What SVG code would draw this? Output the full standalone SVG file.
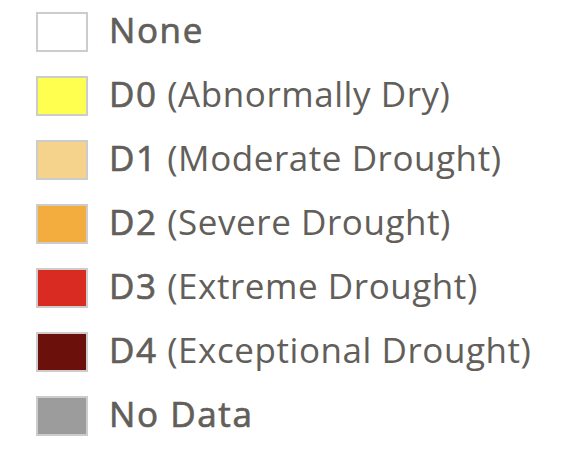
<svg xmlns="http://www.w3.org/2000/svg" width="580" height="452" viewBox="0 0 580 452">
<style>
.sw{stroke:#cccccc;stroke-width:2}
text{font-family:"Open Sans","Noto Sans",sans-serif;font-size:35px;fill:#625e5a;letter-spacing:0.55px}
.b{stroke:#625e5a;stroke-width:0.7px;letter-spacing:1.6px}
</style>
<rect width="580" height="452" fill="#ffffff"/>
<g id="none"><rect class="sw" x="37" y="13" width="50" height="38" fill="#ffffff"/><text x="109" y="43" class="b">None</text></g>
<g id="d0"><rect class="sw" x="37" y="77" width="50" height="38" fill="#ffff4f"/><text x="109" y="107"><tspan class="b">D0</tspan> (Abnormally Dry)</text></g>
<g id="d1"><rect class="sw" x="37" y="141" width="50" height="38" fill="#f5d38c"/><text x="109" y="171"><tspan class="b">D1</tspan> (Moderate Drought)</text></g>
<g id="d2"><rect class="sw" x="37" y="205" width="50" height="38" fill="#f3ad3f"/><text x="109" y="235"><tspan class="b">D2</tspan> (Severe Drought)</text></g>
<g id="d3"><rect class="sw" x="37" y="269" width="50" height="38" fill="#d92b21"/><text x="109" y="299"><tspan class="b">D3</tspan> (Extreme Drought)</text></g>
<g id="d4"><rect class="sw" x="37" y="333" width="50" height="38" fill="#6b100b"/><text x="109" y="363"><tspan class="b">D4</tspan> (Exceptional Drought)</text></g>
<g id="nodata"><rect class="sw" x="37" y="397" width="50" height="38" fill="#9c9c9c"/><text x="109" y="427" class="b">No Data</text></g>
</svg>
